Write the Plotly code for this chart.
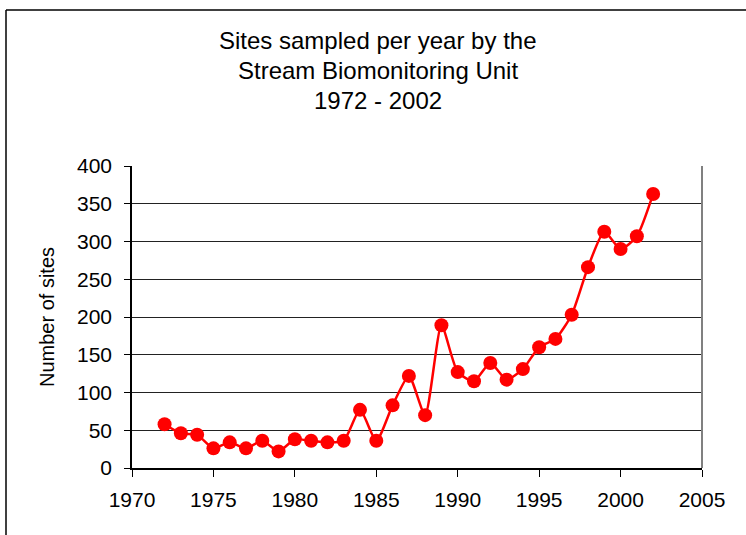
import plotly.graph_objects as go

# Data
years = list(range(1972, 2003))
sites = [58, 46, 44, 26, 34, 26, 36, 22, 38, 36, 34, 36, 77, 36, 83, 122,
         70, 189, 127, 115, 139, 117, 131, 160, 171, 203, 266, 313, 290, 307, 363]

W, H = 746, 535
x0, x1 = 132 / W, 702 / W
y0, y1 = 1 - 468 / H, 1 - 166 / H

fig = go.Figure()
fig.add_trace(go.Scatter(
    x=years,
    y=sites,
    mode="lines+markers",
    line=dict(color="#ff0000", width=2.5, shape="spline", smoothing=0.6),
    marker=dict(color="#ff0000", size=14),
    showlegend=False
))

# Title
for i, txt in enumerate(["Sites sampled per year by the",
                         "Stream Biomonitoring Unit",
                         "1972 - 2002"]):
    fig.add_annotation(
        x=378 / W, y=1 - (40 + 30 * i) / H, xref="paper", yref="paper",
        text=txt, showarrow=False, xanchor="center", yanchor="middle",
        font=dict(size=24, color="black", family="Liberation Sans, Arial")
    )

# Y axis title
fig.add_annotation(
    x=47 / W, y=1 - 317 / H, xref="paper", yref="paper",
    text="Number of sites", showarrow=False, textangle=-90,
    xanchor="center", yanchor="middle",
    font=dict(size=20, color="black", family="Liberation Sans, Arial")
)

# Outer frame lines and plot-area border
fig.add_shape(type="line", xref="paper", yref="paper",
              x0=6 / W, x1=6 / W, y0=1 - 10 / H, y1=0,
              line=dict(color="black", width=1.5))
fig.add_shape(type="line", xref="paper", yref="paper",
              x0=6 / W, x1=1, y0=1 - 10 / H, y1=1 - 10 / H,
              line=dict(color="black", width=1.5))
fig.add_shape(type="line", xref="paper", yref="paper",
              x0=x1, x1=x1, y0=y0, y1=y1,
              line=dict(color="#808080", width=2))

fig.update_layout(
    width=W, height=H,
    margin=dict(l=0, r=0, t=0, b=0),
    plot_bgcolor="white",
    paper_bgcolor="white",
    font=dict(family="Liberation Sans, Arial", size=21, color="black"),
    xaxis=dict(
        domain=[x0, x1], range=[1970, 2005], dtick=5, tick0=1970,
        showgrid=False, zeroline=False, automargin=False,
        showline=True, linecolor="black", linewidth=1.5,
        ticks="outside", ticklen=7, tickcolor="black",
        ticklabelstandoff=5,
        tickfont=dict(size=21)
    ),
    yaxis=dict(
        domain=[y0, y1], range=[0, 400], dtick=50,
        showgrid=True, gridcolor="#222222", gridwidth=1,
        zeroline=False, automargin=False,
        showline=True, linecolor="black", linewidth=1.5,
        ticks="outside", ticklen=6, tickcolor="black",
        ticklabelstandoff=8,
        tickfont=dict(size=21)
    )
)

fig.write_html("out.html", config={"displayModeBar": False},
               post_script="document.body.style.margin='0';")
